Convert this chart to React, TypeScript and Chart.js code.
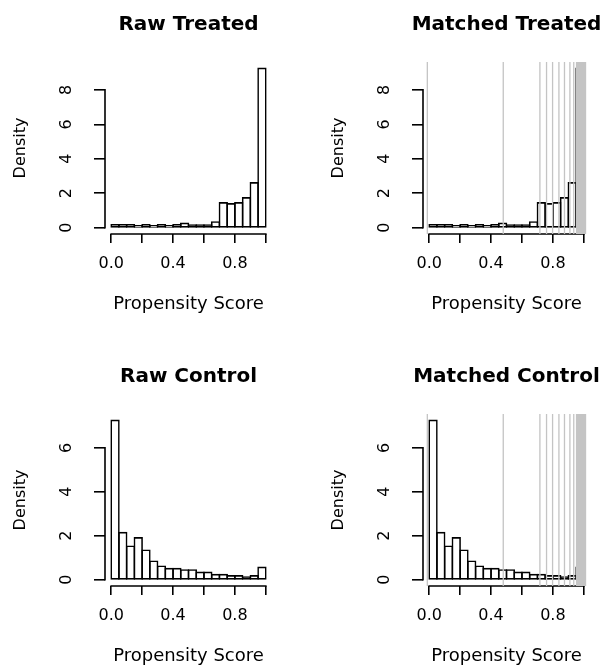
import React, { useEffect, useRef } from 'react';
import { Chart, registerables } from 'chart.js';

Chart.register(...registerables);

// ---------- data ----------
const binEdges = [0, 0.05, 0.1, 0.15, 0.2, 0.25, 0.3, 0.35, 0.4, 0.45, 0.5, 0.55, 0.6, 0.65, 0.7, 0.75, 0.8, 0.85, 0.9, 0.95, 1.0];
const treatedDensity = [0.17, 0.17, 0.17, 0.1, 0.17, 0.1, 0.17, 0.1, 0.17, 0.25, 0.15, 0.15, 0.15, 0.33, 1.44, 1.38, 1.44, 1.73, 2.6, 9.25];
const controlDensity = [7.25, 2.14, 1.52, 1.9, 1.34, 0.84, 0.61, 0.5, 0.5, 0.44, 0.44, 0.33, 0.33, 0.23, 0.23, 0.17, 0.17, 0.12, 0.17, 0.56];
// propensity scores of matched units, drawn as grey reference lines
const matchedScores = [-0.012, 0.479, 0.716, 0.759, 0.798, 0.839, 0.875, 0.91, 0.935, 0.953, 0.957, 0.963, 0.969, 0.975, 0.981, 0.987, 0.993, 0.999, 1.005, 1.011];
const xTickValues = [0, 0.2, 0.4, 0.6, 0.8, 1.0];
const xTickLabels = ['0.0', '', '0.4', '', '0.8', ''];
const treatedYTicks = [0, 2, 4, 6, 8];
const controlYTicks = [0, 2, 4, 6];
const panelTitles = ['Raw Treated', 'Matched Treated', 'Raw Control', 'Matched Control'];
const xAxisTitle = 'Propensity Score';
const yAxisTitle = 'Density';

// ---------- layout ----------
const FONT = "'DejaVu Sans', sans-serif";
const PANEL_H = 333;
const X_AXIS_H = 80;
const LW = 1.6;

type PanelSpec = {
  title: string;
  density: number[];
  yTicks: number[];
  matched: boolean;
  x0: number;
  y0: number;
  L: number;
  R: number;
  T: number;
  B: number;
};

const panels: PanelSpec[] = [
  { title: panelTitles[0], density: treatedDensity, yTicks: treatedYTicks, matched: false, x0: 0, y0: 0, L: 105, R: 272, T: 62, B: 234 },
  { title: panelTitles[1], density: treatedDensity, yTicks: treatedYTicks, matched: true, x0: 302, y0: 0, L: 121, R: 288, T: 62, B: 234 },
  { title: panelTitles[2], density: controlDensity, yTicks: controlYTicks, matched: false, x0: 0, y0: 333, L: 105, R: 272, T: 81, B: 253 },
  { title: panelTitles[3], density: controlDensity, yTicks: controlYTicks, matched: true, x0: 302, y0: 333, L: 121, R: 288, T: 81, B: 253 },
];

// R-style axis lines: only from first to last tick
const rAxisLines = {
  id: 'rAxisLines',
  beforeDatasetsDraw(chart: any) {
    const { ctx, chartArea, scales } = chart;
    const xs = scales.x;
    const ys = scales.y;
    ctx.save();
    ctx.strokeStyle = '#000';
    ctx.lineWidth = LW;
    ctx.lineCap = 'square';
    ctx.beginPath();
    const xt = xs.ticks;
    ctx.moveTo(xs.getPixelForValue(xt[0].value), chartArea.bottom);
    ctx.lineTo(xs.getPixelForValue(xt[xt.length - 1].value), chartArea.bottom);
    const yt = ys.ticks;
    ctx.moveTo(chartArea.left, ys.getPixelForValue(yt[0].value));
    ctx.lineTo(chartArea.left, ys.getPixelForValue(yt[yt.length - 1].value));
    ctx.stroke();
    ctx.restore();
  },
};

function Panel({ spec }: { spec: PanelSpec }) {
  const ref = useRef<HTMLCanvasElement | null>(null);
  // canvas is symmetric around the plot region so the full-width title is centred on it
  const canvasW = spec.L + spec.R;

  useEffect(() => {
    const canvas = ref.current;
    if (!canvas) return;
    const { density, yTicks, matched, L, T, B, title } = spec;

    const yMax = Math.max(...density);
    const yLo = -0.04 * yMax;
    const yHi = 1.04 * yMax;
    const xMin = binEdges[0];
    const xMax = binEdges[binEdges.length - 1];
    const xPad = 0.04 * (xMax - xMin);

    const barData = density.map((d, i) => ({ x: (binEdges[i] + binEdges[i + 1]) / 2, y: d }));
    const lineData: { x: number; y: number | null }[] = [];
    matchedScores.forEach((s) => {
      lineData.push({ x: s, y: yLo });
      lineData.push({ x: s, y: yHi });
      lineData.push({ x: s, y: null });
    });

    const datasets: any[] = [
      {
        type: 'bar',
        data: barData,
        yAxisID: 'y',
        backgroundColor: 'rgba(0,0,0,0)',
        borderColor: '#000',
        borderWidth: 0.01,
        inflateAmount: LW / 2,
        borderSkipped: false,
        barPercentage: 1,
        categoryPercentage: 1,
        order: 2,
      },
    ];
    if (matched) {
      datasets.push({
        type: 'line',
        data: lineData,
        yAxisID: 'y',
        borderColor: '#c4c4c4',
        borderWidth: 1.3,
        pointRadius: 0,
        spanGaps: false,
        fill: false,
        tension: 0,
        order: 1,
      });
    }

    const chart = new Chart(canvas, {
      type: 'bar',
      data: { datasets },
      options: {
        animation: false,
        responsive: false,
        events: [],
        layout: {
          autoPadding: false,
          padding: { left: 0, top: 0, right: 0, bottom: PANEL_H - B - X_AXIS_H },
        },
        plugins: {
          legend: { display: false },
          tooltip: { enabled: false },
          title: {
            display: true,
            text: title,
            color: '#000',
            fullSize: true,
            align: 'center',
            font: { family: FONT, size: 20, weight: 'bold', lineHeight: 1 },
            padding: { top: T - 47.4, bottom: 27.4 },
          },
        },
        scales: {
          x: {
            type: 'linear',
            min: xMin - xPad,
            max: xMax + xPad,
            offset: false,
            grid: { display: true, drawOnChartArea: false, drawTicks: true, tickLength: 9, color: '#000', lineWidth: LW, offset: false },
            border: { display: false },
            ticks: {
              autoSkip: false,
              maxRotation: 0,
              minRotation: 0,
              padding: 13.3,
              color: '#000',
              font: { family: FONT, size: 16, lineHeight: 1 },
              callback: (_v: any, i: number) => xTickLabels[i],
            },
            afterBuildTicks: (s: any) => {
              s.ticks = xTickValues.map((v) => ({ value: v }));
            },
            afterFit: (s: any) => {
              s.height = X_AXIS_H;
            },
            title: {
              display: true,
              text: xAxisTitle,
              color: '#000',
              font: { family: FONT, size: 18, lineHeight: 1 },
              padding: { top: 0, bottom: 0.9 },
            },
          },
          y: {
            type: 'linear',
            position: 'left',
            min: yLo,
            max: yHi,
            grid: { display: true, drawOnChartArea: false, drawTicks: true, tickLength: 11, color: '#000', lineWidth: LW },
            border: { display: false },
            ticks: {
              autoSkip: false,
              minRotation: 90,
              maxRotation: 90,
              crossAlign: 'center',
              padding: 21.9,
              color: '#000',
              font: { family: FONT, size: 16, lineHeight: 1 },
              callback: (v: any) => String(v),
            },
            afterBuildTicks: (s: any) => {
              s.ticks = yTicks.map((v) => ({ value: v }));
            },
            afterFit: (s: any) => {
              s.width = L;
            },
            title: {
              display: true,
              text: yAxisTitle,
              color: '#000',
              font: { family: FONT, size: 16, lineHeight: 1 },
              padding: { top: L - 84 - 8, bottom: 0 },
            },
          },
          // empty right-hand spacer, as wide as the left margin
          yr: {
            type: 'linear',
            axis: 'y',
            position: 'right',
            display: true,
            grid: { display: false, drawTicks: false },
            border: { display: false },
            ticks: { display: false },
            title: { display: false },
            afterFit: (s: any) => {
              s.width = L;
            },
          },
        },
      } as any,
      plugins: [rAxisLines],
    });

    return () => chart.destroy();
  }, [spec]);

  return (
    <canvas
      ref={ref}
      width={canvasW}
      height={PANEL_H}
      style={{ position: 'absolute', left: spec.x0, top: spec.y0, width: canvasW, height: PANEL_H, display: 'block' }}
    />
  );
}

export default function App() {
  return (
    <div style={{ position: 'absolute', left: 0, top: 0, width: 604, height: 666, overflow: 'hidden', background: '#fff' }}>
      {panels.map((p) => (
        <Panel key={p.title} spec={p} />
      ))}
    </div>
  );
}
